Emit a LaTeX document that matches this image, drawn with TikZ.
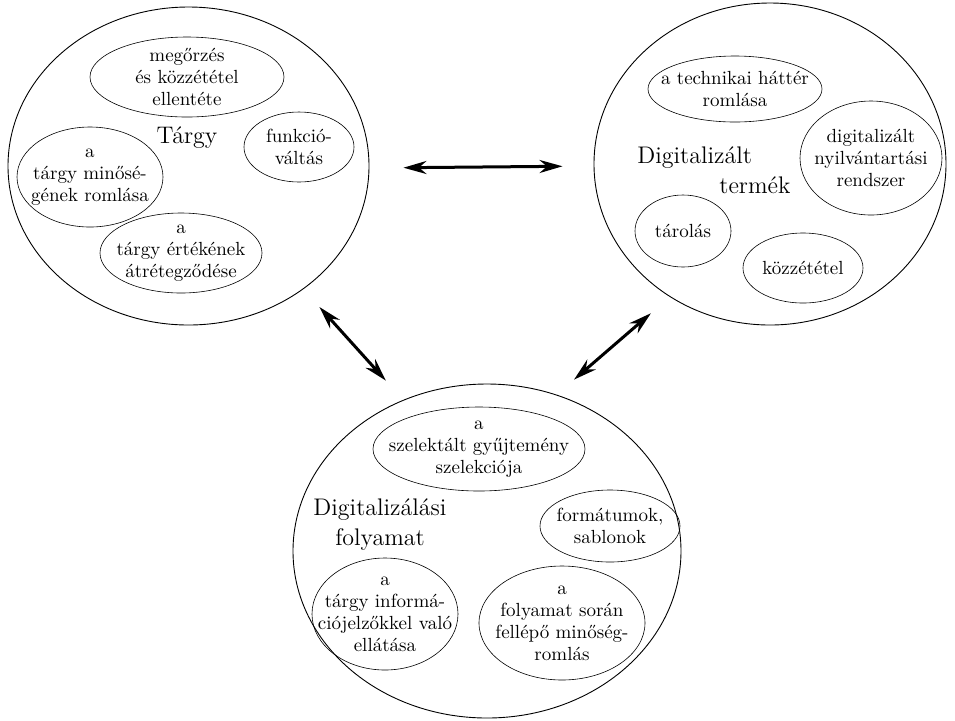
\documentclass[tikz,border=0pt]{standalone}
\usepackage{tikz}
\usetikzlibrary{arrows.meta, shapes.geometric}

\begin{document}
\begin{tikzpicture}[
    x=0.5pt, y=-0.5pt,
    outer/.style = {draw, ellipse, line width=0.45pt, inner sep=0pt},
    inner/.style = {draw, ellipse, line width=0.3pt, inner xsep=-14pt, inner ysep=-8pt,
                    align=center, font=\fontsize{9.5}{11}\selectfont},
    title/.style = {align=center, inner sep=0pt, font=\fontsize{12}{15}\selectfont},
    link/.style  = {{Stealth[length=11.5pt, width=6.5pt]}-{Stealth[length=11.5pt, width=6.5pt]},
                    line width=1.5pt}
]
\useasboundingbox (0,0) rectangle (955,720);

% Nagy ellipszisek
\node[outer, minimum width=180.5pt, minimum height=159pt] (targy)    at (188.5,166) {};
\node[outer, minimum width=176pt,   minimum height=161pt] (termek)   at (770,164)   {};
\node[outer, minimum width=194pt,   minimum height=167pt] (folyamat) at (487,551)   {};

% Targy
\node[title] (targyT) at (187,138) {Tárgy};
\node[inner, minimum width=97pt, minimum height=40pt] (megorzes) at (187,77)
    {megőrzés\\és közzététel\\ellentéte};
\node[inner, minimum width=55pt, minimum height=35pt] (funkcio)  at (299,147)
    {funkció-\\váltás};
\node[inner, minimum width=73pt, minimum height=50pt] (minoseg)  at (90,177)
    {a\\tárgy minősé-\\gének romlása};
\node[inner, minimum width=81pt, minimum height=40pt] (ertek)    at (181,253)
    {a\\tárgy értékének\\átrétegződése};

% Digitalizalt termek
\node[title, align=left, anchor=west] (termekT) at (637,170)
    {Digitalizált\\\hspace*{41pt}termék};
\node[inner, minimum width=87pt, minimum height=33pt] (hatter)   at (735,89)
    {a technikai háttér\\romlása};
\node[inner, minimum width=71pt, minimum height=57pt] (nyilv)    at (871,158)
    {digitalizált\\nyilvántartási\\rendszer};
\node[inner, minimum width=48pt, minimum height=36pt] (tarolas)  at (683,231)
    {tárolás};
\node[inner, minimum width=60pt, minimum height=35pt] (kozzetet) at (803,268)
    {közzététel};

% Digitalizalasi folyamat
\node[title] (folyamatT) at (380,525) {Digitalizálási\\folyamat};
\node[inner, minimum width=106pt, minimum height=42pt] (szelekt) at (479,449)
    {a\\szelektált gyűjtemény\\szelekciója};
\node[inner, minimum width=70pt,  minimum height=36pt] (format)  at (610,526)
    {formátumok,\\sablonok};
\node[inner, minimum width=73pt,  minimum height=56pt] (info)    at (385,614)
    {a\\tárgy informá-\\ciójelzőkkel való\\ellátása};
\node[inner, minimum width=83pt,  minimum height=57pt] (romlas)  at (562,623)
    {a\\folyamat során\\fellépő minőség-\\romlás};

% Kapcsolatok
\draw[link, shorten <=17pt,   shorten >=15.5pt] ([yshift=-1pt]targy.east) -- ([yshift=-1pt]termek.west);
\draw[link, shorten <=12pt,   shorten >=13pt]   (targy.-47.6)   -- (folyamat.119.2);
\draw[link, shorten <=12.5pt, shorten >=11.5pt] (termek.-127.1) -- (folyamat.66.4);

\end{tikzpicture}
\end{document}
